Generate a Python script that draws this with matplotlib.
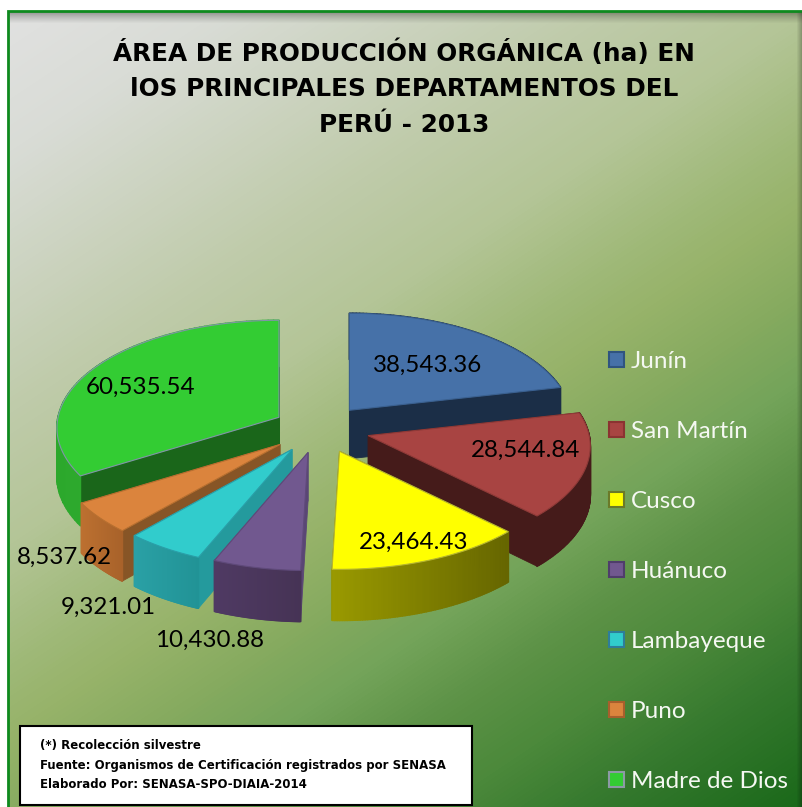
import matplotlib
matplotlib.use("Agg")
import matplotlib.pyplot as plt
import numpy as np
from matplotlib.colors import LinearSegmentedColormap, to_rgb
from matplotlib.patches import Polygon, Rectangle
from matplotlib.collections import PolyCollection

# data
departments = ["Junín", "San Martín", "Cusco", "Huánuco", "Lambayeque", "Puno", "Madre de Dios"]
areas = [38543.36, 28544.84, 23464.43, 10430.88, 9321.01, 8537.62, 60535.54]
title_lines = ["ÁREA DE PRODUCCIÓN ORGÁNICA (ha) EN", "lOS PRINCIPALES DEPARTAMENTOS DEL", "PERÚ - 2013"]
note_lines = ["(*) Recolección silvestre",
              "Fuente: Organismos de Certificación registrados por SENASA",
              "Elaborado Por: SENASA-SPO-DIAIA-2014"]

# styles
top_colors = ["#4671A8", "#A84442", "#FFFF00", "#71588F", "#31CCCC", "#DB843D", "#33CC33"]
edge_colors = ["#3A6090", "#8F3A38", "#B5B530", "#5F4A7A", "#2A9FA8", "#B87030", "#8095A8"]
swatch_edges = ["#2F5480", "#8B3331", "#6B7A28", "#4F3D6B", "#2E7D9A", "#A85F2C", "#8C9AA5"]
radial_colors = ["#1B2E47", "#451B1A", "#666600", "#5A4675", "#249A9D", "#875526", "#1A661A"]
arc_left = ["#1B2E47", "#451B1A", "#9A9A00", "#4F3A63", "#2AA0A5", "#BC7030", "#2CA82C"]
arc_right = ["#1B2E47", "#451B1A", "#666600", "#463355", "#219396", "#A8622A", "#38B838"]
label_xy = [(428, 365), (526, 450), (414, 542), (210, 640), (108, 607), (64, 557), (141, 387)]
draw_order = [0, 6, 1, 5, 4, 3, 2]
x_nudge = [0, 3, 2, -2, -3, -4, 0]

# pie geometry in pixels
CX, CY = 320, 429
RX, RY = 221, 106.5
EX, EY = 47, 24
PERSP = 0.098
DEPTH = 48.5

W, H = 802, 807
fig = plt.figure(figsize=(W / 100, H / 100), dpi=100, facecolor="white")
ax = fig.add_axes([0, 0, 1, 1])

# background gradient with shadow along top and right
bg_cmap = LinearSegmentedColormap.from_list("bg", [(0, "#E2E2E2"), (0.117, "#D9DCD6"), (0.31, "#BFCBAA"),
                                                  (0.41, "#B4C597"), (0.5, "#9FB978"), (0.55, "#97B36A"),
                                                  (0.62, "#85AA5F"), (0.68, "#74A45A"), (0.753, "#5C9246"),
                                                  (0.82, "#4C893B"), (0.895, "#35792E"), (1, "#1A691A")])
yy, xx = np.mgrid[0:H, 0:W]
rgb = bg_cmap((xx + 1.5 * yy) / (W + 1.5 * H))[:, :, :3]
shade = (0.6 + 0.4 * np.clip((yy - 11) / 12, 0, 1) ** 0.7) * (0.72 + 0.28 * np.clip((W - xx) / 6, 0, 1))
ax.imshow(rgb * shade[:, :, None], extent=(0, W, H, 0), aspect="auto", zorder=0)
ax.add_patch(Rectangle((0, 0), 8, H, fc="white", ec="none", zorder=0.5))
ax.add_patch(Rectangle((0, 0), W, 10.5, fc="white", ec="none", zorder=0.5))
ax.set_xlim(0, W)
ax.set_ylim(H, 0)
ax.axis("off")
ax.plot([8, 8, W], [H, 10.5, 10.5], color="#0E8A1E", lw=2, zorder=1, solid_joinstyle="miter")


def arc_points(theta, apex, down=0.0):
    d = 1 + PERSP * np.cos(theta)
    x = apex[0] + RX * np.sin(theta) / d
    y = apex[1] - RY * np.cos(theta) / d
    h = DEPTH / (1 + 0.05 * np.cos(theta))
    return np.column_stack([x, y + h * down])


def draw_slice(i, start, stop):
    mid = (start + stop) / 2
    apex = (CX + EX * np.sin(mid) + x_nudge[i], CY - EY * np.cos(mid))
    theta = np.linspace(start, stop, 80)
    top = arc_points(theta, apex)
    bottom = arc_points(theta, apex, down=1.0)
    apex_low = (apex[0], apex[1] + DEPTH)
    # radial walls first
    for end, low in [(top[0], bottom[0]), (top[-1], bottom[-1])]:
        ax.add_patch(Polygon([apex, end, low, apex_low], closed=True, fc=radial_colors[i],
                             ec=radial_colors[i], lw=0.6, zorder=2))
    # outer wall, shaded from its left end to its right end
    quads = [[top[k], top[k + 1], bottom[k + 1], bottom[k]] for k in range(len(theta) - 1)]
    left = np.array(to_rgb(arc_left[i]))
    right = np.array(to_rgb(arc_right[i]))
    t = (top[:-1, 0] - top[:, 0].min()) / (np.ptp(top[:, 0]) + 1e-9)
    cols = left + (right - left) * t[:, None]
    ax.add_collection(PolyCollection(quads, facecolors=cols, edgecolors=cols, linewidths=1.2, zorder=2))
    ax.add_patch(Polygon(np.vstack([[apex], top]), closed=True, fc=top_colors[i], ec=edge_colors[i],
                         lw=0.8, zorder=2))


# angles clockwise from 12 o'clock
edges = np.concatenate([[0], np.cumsum(areas)]) / np.sum(areas) * 2 * np.pi
for i in draw_order:
    draw_slice(i, edges[i], edges[i + 1])

# data labels
for (x, y), v in zip(label_xy, areas):
    ax.text(x, y, f"{v:,.2f}", fontsize=17.4, family="Lato", color="black", ha="center", va="center", zorder=5)

# legend
for k, (name, color, edge) in enumerate(zip(departments, top_colors, swatch_edges)):
    y = 360 + 70 * k
    ax.add_patch(Rectangle((609, y - 8), 15, 15, fc=color, ec=edge, lw=1.5, zorder=5))
    ax.text(631, y + 1, name, fontsize=17.5, family="Lato", color="#F5F8F2", ha="left", va="center", zorder=5)

# title
for y, line in zip([53, 89, 125], title_lines):
    ax.text(404, y, line, fontsize=17.8, fontweight="bold", family="DejaVu Sans", color="black",
            ha="center", va="center", zorder=5)

# note box
ax.add_patch(Rectangle((20, 726), 452, 79, fc="white", ec="black", lw=1.5, zorder=6))
for y, line in zip([746, 765, 784], note_lines):
    ax.text(40, y, line, fontsize=8.45, fontweight="bold", family="DejaVu Sans", color="black",
            ha="left", va="center", zorder=7)

fig.savefig("out.png", dpi=100, facecolor="white")
